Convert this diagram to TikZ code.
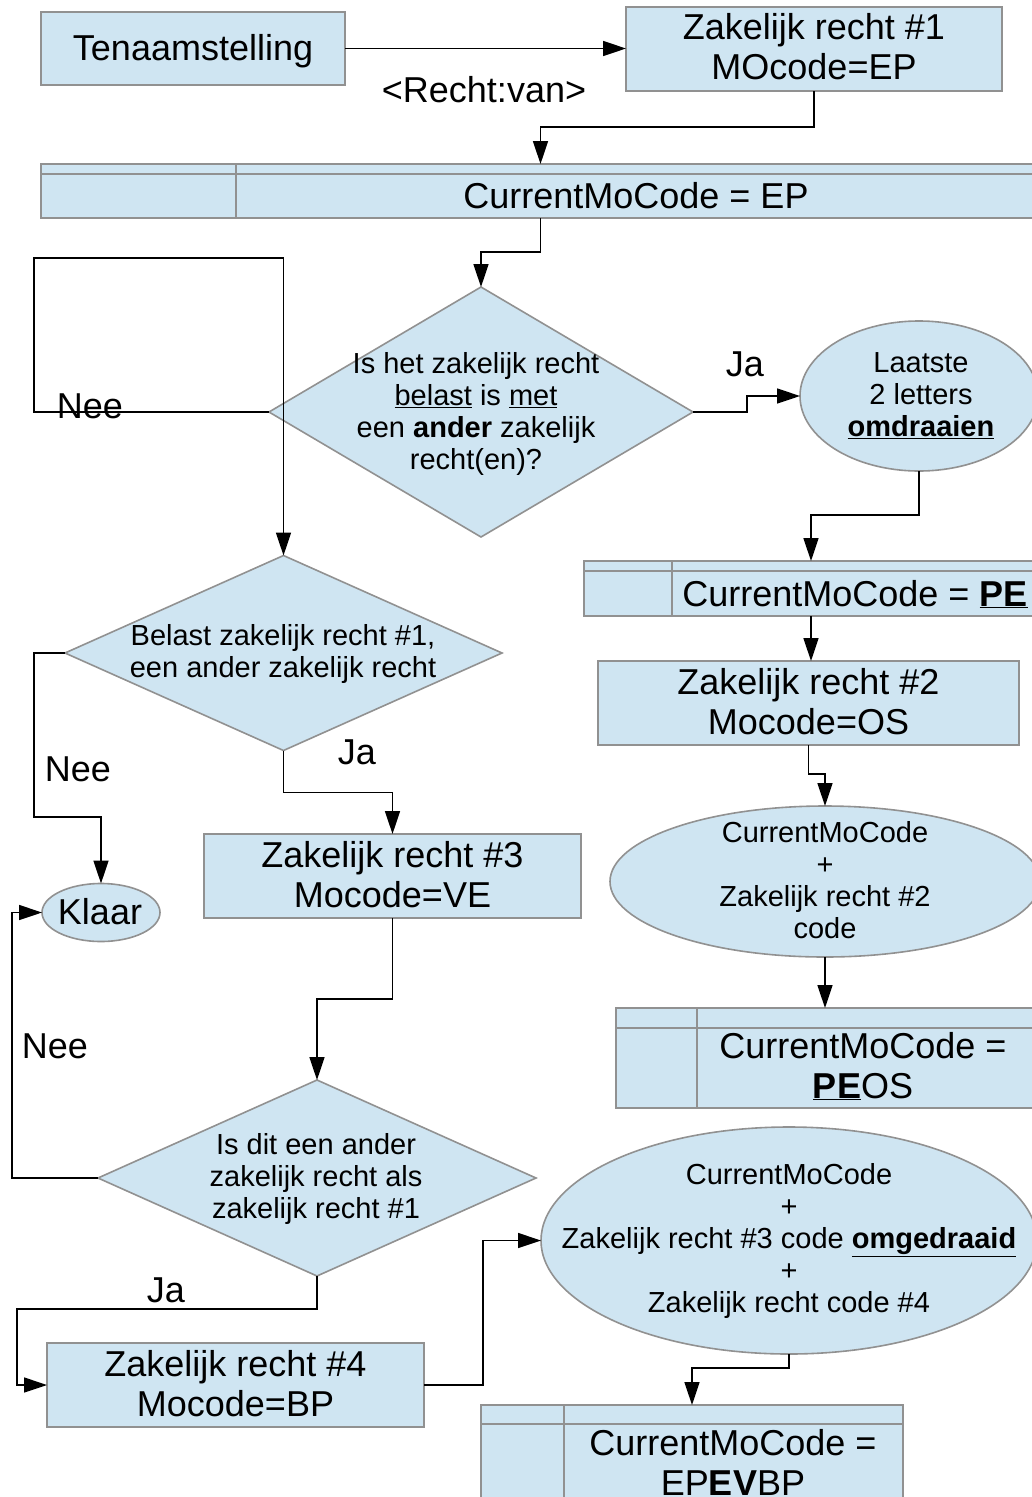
\documentclass[tikz,border=0pt]{standalone}
\usepackage{fontspec}
\setmainfont{Liberation Sans}
\usetikzlibrary{shapes.geometric,arrows.meta}
\definecolor{boxfill}{RGB}{207,229,242}
\definecolor{boxline}{RGB}{145,145,145}
\begin{document}
\begin{tikzpicture}[x=1pt,y=-1pt,
  shp/.style={draw=boxline, fill=boxfill, line width=1.6pt, inner sep=0pt, outer sep=0pt},
  rbox/.style={shp, rectangle},
  dia/.style={shp, diamond},
  ell/.style={shp, ellipse},
  tline/.style={draw=boxline, line width=1.6pt},
  bigtxt/.style={font=\fontsize{36}{40}\selectfont, align=center, inner sep=0pt,
    execute at begin node=\strut, execute at end node=\strut},
  smalltxt/.style={font=\fontsize{29}{32}\selectfont, align=center, inner sep=0pt,
    execute at begin node=\strut, execute at end node=\strut},
  lbl/.style={font=\fontsize{36}{40}\selectfont, inner sep=0pt, anchor=base},
  arr/.style={draw=black, line width=1.5pt, -{Triangle[length=23pt,width=15pt]}},
]
\useasboundingbox (0,0) rectangle (1032,1497);
\clip (0,0) rectangle (1032,1497);
\fill[white] (0,0) rectangle (1032,1497);

% ---------- shapes ----------
\node[rbox, minimum width=304pt, minimum height=73pt] (ten) at (193,48.5) {};
\node[rbox, minimum width=376pt, minimum height=84pt] (zr1) at (814,49) {};

\node[rbox, minimum width=999pt, minimum height=54pt] (cmc1) at (540.5,191) {};
\draw[tline] ([yshift=-10pt]cmc1.north west) -- ([yshift=-10pt]cmc1.north east);
\draw[tline] ([xshift=195pt]cmc1.north west) -- ([xshift=195pt]cmc1.south west);

\node[dia, minimum width=424pt, minimum height=250pt] (d1) at (481,412) {};
\node[ell, minimum width=238pt, minimum height=150pt] (e1) at (919,396) {};

\node[rbox, minimum width=454pt, minimum height=55pt] (cmc2) at (811,588.5) {};
\draw[tline] ([yshift=-10pt]cmc2.north west) -- ([yshift=-10pt]cmc2.north east);
\draw[tline] ([xshift=88pt]cmc2.north west) -- ([xshift=88pt]cmc2.south west);

\node[dia, minimum width=437pt, minimum height=195pt] (d2) at (283.5,653) {};
\node[rbox, minimum width=421pt, minimum height=84pt] (zr2) at (808.5,703) {};
\node[ell, minimum width=430pt, minimum height=151pt] (e2) at (825,881.5) {};
\node[ell, minimum width=118pt, minimum height=58pt] (klaar) at (101,912.5) {};
\node[rbox, minimum width=377pt, minimum height=84pt] (zr3) at (392.5,876) {};

\node[rbox, minimum width=418pt, minimum height=100pt] (cmc3) at (825,1058) {};
\draw[tline] ([yshift=-20pt]cmc3.north west) -- ([yshift=-20pt]cmc3.north east);
\draw[tline] ([xshift=81pt]cmc3.north west) -- ([xshift=81pt]cmc3.south west);

\node[dia, minimum width=438pt, minimum height=196pt] (d3) at (317,1178) {};
\node[ell, minimum width=496pt, minimum height=227pt] (e3) at (789,1240.5) {};
\node[rbox, minimum width=377pt, minimum height=84pt] (zr4) at (235.5,1385) {};

\node[rbox, minimum width=422pt, minimum height=100pt] (cmc4) at (692,1455) {};
\draw[tline] ([yshift=-19pt]cmc4.north west) -- ([yshift=-19pt]cmc4.north east);
\draw[tline] ([xshift=83pt]cmc4.north west) -- ([xshift=83pt]cmc4.south west);

% ---------- texts ----------
\node[bigtxt] (tent) at (193,52.5) {Tenaamstelling};
\node[bigtxt] (zr1t) at (814,52) {Zakelijk recht \#1\\MOcode=EP};
\node[bigtxt] (cmc1t) at (636,200) {CurrentMoCode = EP};
\node[smalltxt] (d1t) at (476,416) {Is het zakelijk recht\\\underline{belast} is \underline{met}\\een \textbf{ander} zakelijk\\recht(en)?};
\node[smalltxt] (e1t) at (921,399) {Laatste\\2 letters\\\underline{\textbf{omdraaien}}};
\node[bigtxt] (cmc2t) at (855,598) {CurrentMoCode = \underline{\textbf{PE}}};
\node[bigtxt] (zr2t) at (808.5,707) {Zakelijk recht \#2\\Mocode=OS};
\node[smalltxt] (d2t) at (283,656) {Belast zakelijk recht \#1,\\een ander zakelijk recht};
\node[smalltxt] (e2t) at (825,885) {CurrentMoCode\\+\\Zakelijk recht \#2\\code};
\node[bigtxt] (klaart) at (100,916) {Klaar};
\node[bigtxt] (zr3t) at (392.5,880) {Zakelijk recht \#3\\Mocode=VE};
\node[bigtxt] (cmc3t) at (863,1071) {CurrentMoCode =\\\underline{\textbf{PE}}OS};
\node[smalltxt] (d3t) at (316,1181) {Is dit een ander\\zakelijk recht als\\zakelijk recht \#1};
\node[smalltxt] (e3t) at (789,1243) {CurrentMoCode\\+\\Zakelijk recht \#3 code \underline{\textbf{omgedraaid}}\\+\\Zakelijk recht code \#4};
\node[bigtxt] (zr4t) at (235.5,1389) {Zakelijk recht \#4\\Mocode=BP};
\node[bigtxt] (cmc4t) at (733,1468) {CurrentMoCode =\\EP\textbf{EV}BP};

% ---------- labels ----------
\node[lbl] (lrecht) at (484,102) {<Recht:van>};
\node[lbl] (lnee1) at (90,418) {Nee};
\node[lbl] (lja1) at (745,376) {Ja};
\node[lbl] (lnee2) at (78,781) {Nee};
\node[lbl] (lja2) at (357,764) {Ja};
\node[lbl] (lnee3) at (55,1058) {Nee};
\node[lbl] (lja3) at (166,1302) {Ja};

% ---------- connectors ----------
\draw[arr] (ten.east) -- (ten.east -| zr1.west);
\draw[arr] (zr1.south) -- ++(0,36) -| (cmc1.north);
\draw[arr] (cmc1.south) -- ++(0,34) -| (d1.north);
\draw[arr] (d1.east) -- ++(54,0) |- (e1.west);
\draw[arr] (d1.west) -| (34,258) -| (d2.north);
\draw[arr] (e1.south) -- ++(0,44) -| (cmc2.north);
\draw[arr] (cmc2.south) -- (cmc2.south |- zr2.north);
\draw[arr] (zr2.south) -- ++(0,29) -| (e2.north);
\draw[arr] (e2.south) -- (cmc3.north);
\draw[arr] (d2.west) -| (34,817) -| (klaar.north);
\draw[arr] (d2.south) -- ++(0,42) -| (zr3.north);
\draw[arr] (zr3.south) -- ++(0,81) -| (d3.north);
\draw[arr] (d3.west) -- ++(-86,0) |- (klaar.west);
\draw[arr] (d3.south) -- ++(0,33) -- ++(-300,0) |- (zr4.west);
\draw[arr] (zr4.east) -- ++(59,0) |- (e3.west);
\draw[arr] (e3.south) -- ++(0,14) -| (cmc4.north);
\end{tikzpicture}
\end{document}
